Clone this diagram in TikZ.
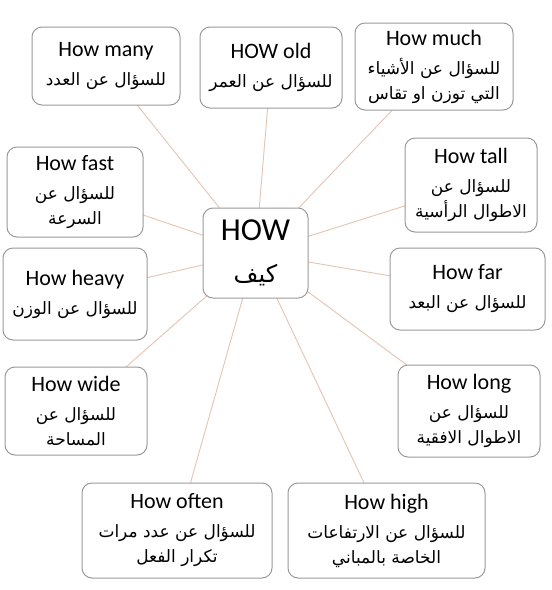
\documentclass[tikz,border=0pt]{standalone}
\usepackage{fontspec}
\setmainfont{Carlito}
\newfontfamily\arabicfont[Script=Arabic]{DejaVu Sans}
\TeXXeTstate=1
\definecolor{spokecol}{RGB}{228,196,178}
\definecolor{boxline}{RGB}{155,155,155}
\newcommand{\ar}[1]{{\fontsize{17}{25}\arabicfont\beginR #1\endR}}

\begin{document}
\begin{tikzpicture}[
  x=1pt,y=-1pt,
  qbox/.style={rectangle,rounded corners=10pt,draw=boxline,line width=1pt,fill=white,
               align=center,inner sep=2pt,font=\fontsize{22}{25}\selectfont},
  hub/.style={qbox,font=\fontsize{32}{42}\selectfont},
  spoke/.style={draw=spokecol,line width=0.9pt}
]
  \useasboundingbox (0,0) rectangle (552,590);
  \fill[white] (0,0) rectangle (552,590);

  % centre
  \coordinate (c) at (255.5,253);

  % spokes first, boxes cover them
  \foreach \p in {(106,66),(271,67.5),(434,66.5),(75,192),(471,185),(75,294),
                  (467.5,289),(76,411),(469,411),(177,530.5),(386.5,530.5)}
    \draw[spoke] (c) -- \p;

  \node[hub,minimum width=105pt,minimum height=90pt] (how) at (c) {HOW\\\ar{\fontsize{24}{30}\selectfont كيف}};

  \node[qbox,minimum width=148pt,minimum height=78pt] (many) at (106,66)
    {How many\\[4pt]\ar{للسؤال عن العدد}};
  \node[qbox,minimum width=142pt,minimum height=81pt] (old) at (271,67.5)
    {HOW old\\[4pt]\ar{للسؤال عن العمر}};
  \node[qbox,minimum width=158pt,minimum height=87pt] (much) at (434,66.5)
    {How much\\[4pt]\ar{للسؤال عن الأشياء}\\\ar{التي توزن او تقاس}};
  \node[qbox,minimum width=136pt,minimum height=90pt] (fast) at (75,192)
    {How fast\\[4pt]\ar{للسؤال عن}\\\ar{السرعة}};
  \node[qbox,minimum width=132pt,minimum height=94pt] (tall) at (471,185)
    {How tall\\[4pt]\ar{للسؤال عن}\\\ar{الاطوال الرأسية}};
  \node[qbox,minimum width=144pt,minimum height=92pt] (heavy) at (75,294)
    {How heavy\\[4pt]\ar{للسؤال عن الوزن}};
  \node[qbox,minimum width=155pt,minimum height=82pt] (far) at (467.5,289)
    {How far\\[4pt]\ar{للسؤال عن البعد}};
  \node[qbox,minimum width=142pt,minimum height=88pt] (wide) at (76,411)
    {How wide\\[4pt]\ar{للسؤال عن}\\\ar{المساحة}};
  \node[qbox,minimum width=142pt,minimum height=92pt] (long) at (469,411)
    {How long\\[4pt]\ar{للسؤال عن}\\\ar{الاطوال الافقية}};
  \node[qbox,minimum width=190pt,minimum height=95pt] (often) at (177,530.5)
    {How often\\[4pt]\ar{للسؤال عن عدد مرات}\\\ar{تكرار الفعل}};
  \node[qbox,minimum width=197pt,minimum height=95pt] (high) at (386.5,530.5)
    {How high\\[4pt]\ar{للسؤال عن الارتفاعات}\\\ar{الخاصة بالمباني}};
\end{tikzpicture}
\end{document}
